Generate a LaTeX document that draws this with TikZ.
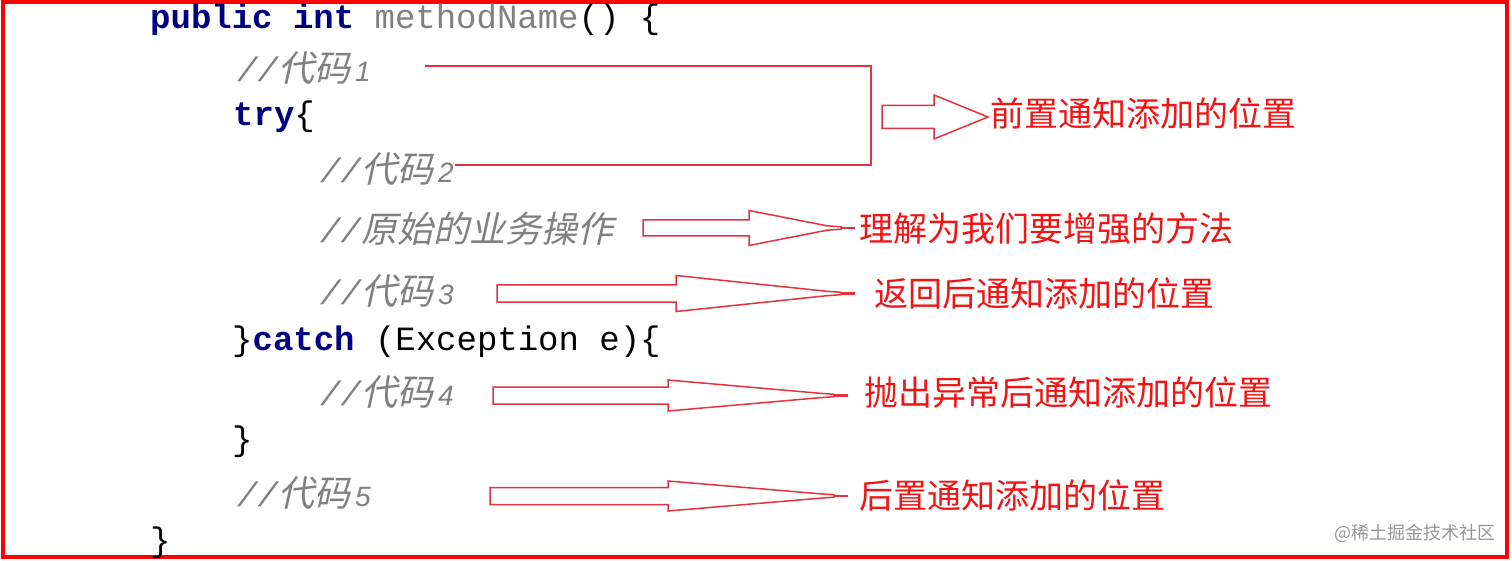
\documentclass[tikz,border=0pt]{standalone}
\usepackage{fontspec}
\setmonofont{Liberation Mono}
\newfontfamily\cjk{Noto Sans CJK SC}
\newfontfamily\cjkit[FakeSlant=0.22]{Noto Sans CJK SC}
\newfontfamily\digfont{Liberation Sans}
\definecolor{bordred}{RGB}{255,0,0}
\definecolor{arrred}{RGB}{230,50,62}
\definecolor{labred}{RGB}{240,20,20}
\definecolor{kwblue}{RGB}{0,0,128}
\definecolor{cmtgray}{RGB}{128,128,128}
\definecolor{wmgray}{RGB}{150,150,150}
\newcommand\cmt[2]{{\fontsize{34}{40}\selectfont\ttfamily\itshape //}{\cjkit #1}\kern5pt{\fontsize{28}{30}\selectfont\digfont\itshape #2}}
\newcommand\thinarrow[6]{%
  \draw[arrowline] (#1,{#4-#5}) -- (#2,{#4-#5}) -- (#2,{#4-#6}) -- ({#3-28},{#4-2.2}) -- ({#3-14},{#4-1.2}) -- ({#3-14},{#4+1.2}) -- ({#3-28},{#4+2.2}) -- (#2,{#4+#6}) -- (#2,{#4+#5}) -- (#1,{#4+#5}) -- cycle;
  \draw[arrowline, line width=2.4pt] ({#3-14},#4) -- (#3,#4);}
\newcommand\fatarrow[6]{%
  \draw[arrowline] (#1,{#4-#5}) -- (#2,{#4-#5}) -- (#2,{#4-#6}) -- (#3,#4) -- (#2,{#4+#6}) -- (#2,{#4+#5}) -- (#1,{#4+#5}) -- cycle;}
\tikzset{
  code/.style={anchor=base west, inner sep=0pt, font=\fontsize{34}{40}\selectfont\ttfamily},
  comment/.style={anchor=base west, inner sep=0pt, text=cmtgray, font=\fontsize{36}{40}\selectfont},
  label/.style={anchor=west, inner sep=0pt, text=labred, font=\fontsize{34}{40}\selectfont\cjk},
  arrowline/.style={draw=arrred, line width=1.5pt, line join=miter},
}
\begin{document}
\begin{tikzpicture}[x=1pt,y=-1pt]
\useasboundingbox (0,0) rectangle (1512,561);
\fill[white] (0,0) rectangle (1512,561);
\draw[bordred, line width=4pt] (2.5,2.5) rectangle (1507,557);

% code
\node[code] (l0) at (150,29) {\textcolor{kwblue}{\bfseries public int} \textcolor{cmtgray}{methodName}() \{};
\node[comment] (c1) at (237,82) {\cmt{代码}{1}};
\node[code] (try) at (233,126) {\textcolor{kwblue}{\bfseries try}\{};
\node[comment] (c2) at (320,183) {\cmt{代码}{2}};
\node[comment] (corig) at (320,243) {\cmt{原始的业务操作}{}};
\node[comment] (c3) at (320,305) {\cmt{代码}{3}};
\node[code] (catch) at (232,350) {\}\textcolor{kwblue}{\bfseries catch} (Exception e)\{};
\node[comment] (c4) at (320,405) {\cmt{代码}{4}};
\node[code] (rb1) at (232,450) {\}};
\node[comment] (c5) at (237,506) {\cmt{代码}{5}};
\node[code] (rb2) at (150,551) {\}};

% bracket for code1 / code2
\coordinate (b1s) at (425,66);
\coordinate (bc1) at (871,66);
\coordinate (bc2) at (871,165);
\coordinate (b2s) at (455,165);
\draw[arrowline] (b1s) -- (bc1) -- (bc2) -- (b2s);

% block arrows
\fatarrow{882}{934}{988}{117}{11.5}{22}
\thinarrow{643}{749}{855}{228}{8}{17.5}
\thinarrow{497}{676}{855}{293.5}{8.5}{18}
\thinarrow{493}{668}{848}{395.5}{8.5}{15.5}
\thinarrow{490}{668}{848}{496}{8.5}{15}

% labels
\node[label] (lab1) at (990,113) {前置通知添加的位置};
\node[label] (lab2) at (859,229) {理解为我们要增强的方法};
\node[label] (lab3) at (874,293) {返回后通知添加的位置};
\node[label] (lab4) at (864,393) {抛出异常后通知添加的位置};
\node[label] (lab5) at (859,495) {后置通知添加的位置};

% watermark
\node[anchor=west, inner sep=0pt, text=wmgray, font=\fontsize{18}{20}\selectfont\cjk] (wm) at (1334,533) {@稀土掘金技术社区};
\end{tikzpicture}
\end{document}
